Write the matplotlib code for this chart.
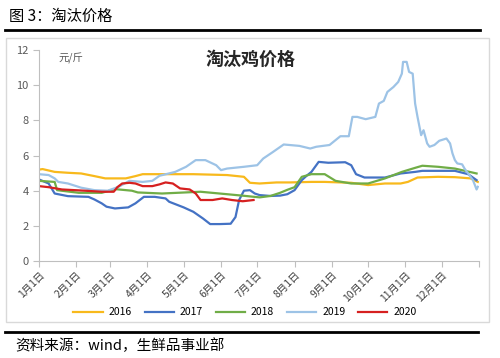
import matplotlib
matplotlib.use('Agg')
import matplotlib.pyplot as plt
from matplotlib.patches import Rectangle
from matplotlib.lines import Line2D

plt.rcParams['font.family'] = ['Noto Sans CJK SC', 'DejaVu Sans']

# 横轴: 一年中的第几天 (0 = 1月1日)
month_days = [0, 31, 59, 90, 120, 151, 181, 212, 243, 273, 304, 334]
month_labels = ['1月1日', '2月1日', '3月1日', '4月1日', '5月1日', '6月1日',
                '7月1日', '8月1日', '9月1日', '10月1日', '11月1日', '12月1日']

# 2016
d2016 = [0, 3, 13, 24, 35, 46, 55, 72, 80, 86, 102, 128, 156, 170, 175, 183, 197, 208,
         226, 237, 259, 273, 287, 300, 306, 314, 331, 345, 358, 364]
v2016 = [5.2, 5.23, 5.07, 5.02, 4.98, 4.83, 4.7, 4.7, 4.83, 4.94, 4.94, 4.94, 4.89, 4.79,
         4.45, 4.41, 4.47, 4.47, 4.5, 4.5, 4.45, 4.32, 4.41, 4.41, 4.5, 4.75, 4.79, 4.77, 4.7, 4.5]

# 2017
d2017 = [0, 8, 13, 24, 41, 46, 52, 56, 63, 74, 80, 87, 96, 105, 108, 120, 128, 136, 142,
         150, 159, 163, 166, 170, 175, 179, 183, 192, 200, 206, 212, 218, 222, 226, 232, 240,
         254, 259, 263, 270, 287, 300, 312, 318, 345, 356, 363]
v2017 = [4.64, 4.41, 3.84, 3.69, 3.65, 3.5, 3.28, 3.09, 2.99, 3.05, 3.28, 3.65, 3.65, 3.56,
         3.37, 3.05, 2.8, 2.42, 2.1, 2.1, 2.12, 2.5, 3.47, 4.0, 4.03, 3.84, 3.75, 3.7, 3.72,
         3.8, 4.03, 4.6, 4.85, 5.07, 5.64, 5.59, 5.62, 5.45, 4.94, 4.75, 4.75, 4.98, 5.07,
         5.13, 5.13, 4.94, 4.6]

# 2018
d2018 = [0, 13, 15, 33, 52, 63, 77, 82, 102, 134, 156, 170, 183, 192, 200, 206, 212, 218,
         226, 237, 246, 259, 273, 287, 301, 312, 318, 331, 345, 363]
v2018 = [4.56, 4.5, 4.03, 3.88, 3.88, 4.09, 4.0, 3.9, 3.84, 3.94, 3.8, 3.71, 3.62, 3.7,
         3.88, 4.05, 4.2, 4.79, 4.94, 4.94, 4.56, 4.41, 4.41, 4.7, 5.07, 5.3, 5.42, 5.36,
         5.26, 4.98]

# 2019
d2019 = [0, 8, 13, 16, 24, 35, 46, 57, 66, 75, 86, 94, 100, 113, 122, 130, 138, 147, 151,
         156, 170, 181, 186, 194, 203, 216, 225, 230, 241, 250, 257, 260, 264, 271, 279, 282,
         286, 289, 294, 298, 301, 302, 305, 307, 310, 312, 314, 317, 319, 322, 324, 328, 332,
         338, 341, 343, 345, 347, 351, 353, 360, 363, 364]
v2019 = [4.94, 4.89, 4.7, 4.5, 4.41, 4.17, 4.03, 4.0, 4.22, 4.56, 4.5, 4.56, 4.85, 5.07,
         5.36, 5.74, 5.74, 5.45, 5.17, 5.26, 5.36, 5.45, 5.83, 6.2, 6.63, 6.55, 6.4, 6.5, 6.6,
         7.1, 7.1, 8.2, 8.2, 8.07, 8.2, 8.96, 9.11, 9.62, 9.9, 10.19, 10.66, 11.33, 11.33,
         10.76, 10.66, 8.96, 8.2, 7.16, 7.44, 6.69, 6.5, 6.6, 6.84, 6.97, 6.69, 6.12, 5.74,
         5.55, 5.5, 5.26, 4.6, 4.07, 4.22]

# 2020
d2020 = [0, 8, 19, 38, 52, 62, 65, 69, 75, 80, 86, 94, 100, 105, 111, 117, 125, 130, 134,
         144, 152, 160, 169, 178]
v2020 = [4.26, 4.2, 4.07, 4.0, 3.94, 3.94, 4.2, 4.41, 4.45, 4.41, 4.26, 4.26, 4.36, 4.47,
         4.41, 4.13, 4.07, 3.84, 3.47, 3.47, 3.56, 3.47, 3.4, 3.47]

years = ['2016', '2017', '2018', '2019', '2020']
colors = ['#F8B91C', '#4472C4', '#70AD47', '#9DC3E6', '#D62020']
series = [(d2016, v2016), (d2017, v2017), (d2018, v2018), (d2019, v2019), (d2020, v2020)]

fig = plt.figure(figsize=(5, 3.58), dpi=100)

# 外框和分隔线
fig.patches.append(Rectangle((0.012, 0.1), 0.966, 0.795, transform=fig.transFigure,
                             fill=False, edgecolor='#D9D9D9', linewidth=1))
fig.add_artist(Line2D([0.01, 0.96], [0.917, 0.917], color='black', linewidth=2))
fig.add_artist(Line2D([0.01, 0.956], [0.073, 0.073], color='black', linewidth=2))
fig.text(0.018, 0.955, '图 3：淘汰价格', fontsize=11, va='center', ha='left')
fig.text(0.03, 0.033, '资料来源：wind，生鲜品事业部', fontsize=10.5, va='center', ha='left')

ax = fig.add_axes([0.078, 0.271, 0.88, 0.589])
for (d, v), c, y in zip(series, colors, years):
    ax.plot(d, v, color=c, linewidth=1.6, label=y)

ax.set_xlim(0, 365)
ax.set_ylim(0, 12)
ax.set_yticks(range(0, 13, 2))
ax.set_xticks(month_days + [365])
ax.set_xticklabels(month_labels + [''], rotation=45, ha='right', rotation_mode='anchor',
                   fontsize=7.5, color='#404040')
ax.tick_params(axis='y', labelsize=8, colors='#595959', length=4, direction='out')
ax.tick_params(axis='x', length=4, direction='out', color='#BFBFBF', pad=2)
ax.tick_params(axis='y', color='#BFBFBF')
for s in ['top', 'right']:
    ax.spines[s].set_visible(False)
ax.spines['left'].set_color('#BFBFBF')
ax.spines['bottom'].set_color('#BFBFBF')

ax.text(0.045, 0.96, '元/斤', transform=ax.transAxes, fontsize=7.5, color='#595959',
        va='center')
ax.text(0.48, 0.955, '淘汰鸡价格', transform=ax.transAxes, fontsize=13, fontweight='bold',
        ha='center', va='center', color='#262626')

fig.legend(loc='center', bbox_to_anchor=(0.49, 0.128), ncol=5, frameon=False, fontsize=7.5,
           handlelength=2.8, columnspacing=1.2, handletextpad=0.6)

fig.savefig('out.png', dpi=100)
